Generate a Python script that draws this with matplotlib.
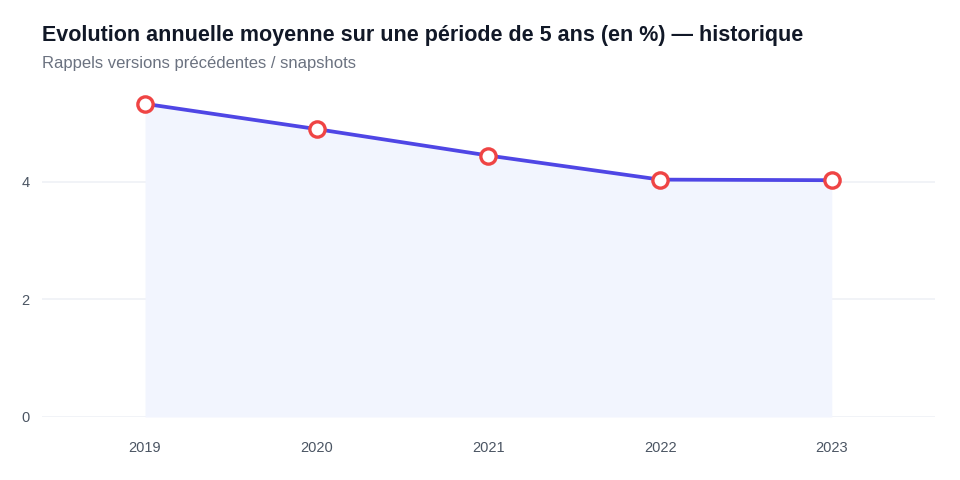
import matplotlib; matplotlib.use('Agg')
import matplotlib.pyplot as plt
import numpy as np

plt.rcParams['font.family'] = ['Liberation Sans', 'DejaVu Sans']

years = ['2019', '2020', '2021', '2022', '2023']
values = [5.33, 4.90, 4.45, 4.04, 4.03]
yticks = [0, 2, 4]

fig = plt.figure(figsize=(9.6, 4.8), dpi=100)
ax = fig.add_axes([0.04375, 0.13125, 0.930, 0.6855])
x = np.arange(len(years))

ax.fill_between(x, values, 0, color='#f2f5fe', lw=0, zorder=1)
ax.plot(x, values, color='#4f46e5', lw=2.7, zorder=3, solid_capstyle='round')
ax.plot(x, values, 'o', ms=11, mfc='white', mec='#ef4444', mew=2.4, zorder=4)

ax.set_xlim(-0.6, 4.6)
ax.set_ylim(0, 5.6)
ax.set_xticks(x, years)
ax.set_yticks(yticks)
ax.grid(axis='y', color='#f0f2f7', lw=1.3, zorder=0)
ax.set_axisbelow(True)
for s in ax.spines.values():
    s.set_visible(False)
ax.tick_params(length=0, colors='#4b5563', labelsize=10.5)
ax.tick_params(axis='x', pad=17)
ax.tick_params(axis='y', pad=9)

fig.text(0.04375, 0.915, 'Evolution annuelle moyenne sur une période de 5 ans (en %) — historique',
         fontsize=15.5, fontweight='bold', color='#111827', va='baseline')
fig.text(0.04375, 0.858, 'Rappels versions précédentes / snapshots',
         fontsize=12, color='#6b7280', va='baseline')

fig.savefig('out.png', dpi=100)
